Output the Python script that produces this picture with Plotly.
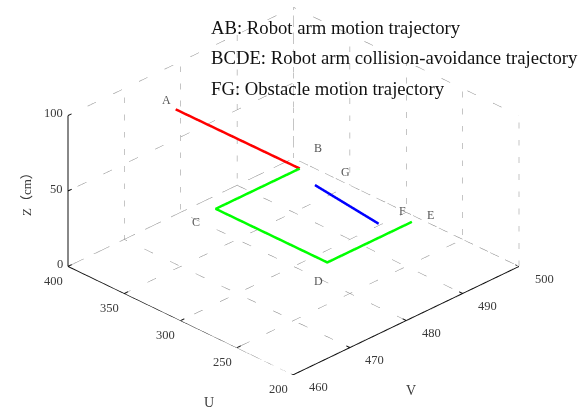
import plotly.graph_objects as go

# ---------------- data ----------------
U_RANGE = [200, 400]
V_RANGE = [460, 500]
Z_RANGE = [0, 100]
U_TICKS = [200, 250, 300, 350, 400]
V_TICKS = [460, 470, 480, 490, 500]
Z_TICKS = [0, 50, 100]

# trajectories: U, V, Z
AB_U = [358, 318]
AB_V = [470.7, 484.7]
AB_Z = [100, 50]

BCDE_U = [318, 318, 219, 219]
BCDE_V = [484.7, 469.8, 469.8, 484.8]
BCDE_Z = [50, 50, 50, 50]

FG_U = [232, 296]
FG_V = [481.5, 483]
FG_Z = [50, 50]

POINT_NAMES = ["A", "B", "C", "D", "E", "F", "G"]
POINT_U = [370.5, 328.6, 314.4, 205, 217.4, 233, 294.2]
POINT_V = [471.5, 490, 465.6, 465.5, 487.7, 486, 488.1]
POINT_Z = [100, 50, 50, 50, 50, 50, 50]

LEGEND_LINES = [
    "AB: Robot arm motion trajectory",
    "BCDE: Robot arm collision-avoidance trajectory",
    "FG: Obstacle motion trajectory",
]

SERIF = "Liberation Serif, Times New Roman, serif"

fig = go.Figure()

u0, u1 = U_RANGE
v0, v1 = V_RANGE
z0, z1 = Z_RANGE
TV = 0.65   # tick length expressed in V units
TU = 3.2    # tick length expressed in U units

# ---------------- grid (dotted, on the back planes) ----------------
gx, gy, gz = [], [], []
# floor
for u in U_TICKS:
    if u == u0:
        continue
    gx += [v0 + TV, v1, None]; gy += [u, u, None]; gz += [z0, z0, None]
for v in V_TICKS:
    if v == v0:
        continue
    gx += [v, v, None]; gy += [u0 + TU, u1, None]; gz += [z0, z0, None]
# back wall V = v1
for u in U_TICKS:
    gx += [v1, v1, None]; gy += [u, u, None]; gz += [z0, z1, None]
for z in Z_TICKS:
    gx += [v1, v1, None]; gy += [u0, u1, None]; gz += [z, z, None]
# back wall U = u1
for v in V_TICKS:
    if v == v0:
        continue
    gx += [v, v, None]; gy += [u1, u1, None]; gz += [z0, z1, None]
for z in Z_TICKS:
    gx += [v0 + TV, v1, None]; gy += [u1, u1, None]; gz += [z, z, None]

fig.add_trace(go.Scatter3d(x=gx, y=gy, z=gz, mode="lines",
                           line=dict(color="#8a8a8a", width=1, dash="dot"),
                           hoverinfo="skip", showlegend=False))

# ---------------- axis lines and ticks ----------------
ax_x = [v0, v0, None, v0, v1, None, v0, v0]
ax_y = [u1, u0, None, u0, u0, None, u1, u1]
ax_z = [z0, z0, None, z0, z0, None, z0, z1]
for u in U_TICKS:
    ax_x += [None, v0, v0 + TV]; ax_y += [None, u, u]; ax_z += [None, z0, z0]
for v in V_TICKS:
    ax_x += [None, v, v]; ax_y += [None, u0, u0 + TU]; ax_z += [None, z0, z0]
for z in Z_TICKS:
    ax_x += [None, v0, v0 + TV]; ax_y += [None, u1, u1]; ax_z += [None, z, z]
fig.add_trace(go.Scatter3d(x=ax_x, y=ax_y, z=ax_z, mode="lines",
                           line=dict(color="#111111", width=2),
                           hoverinfo="skip", showlegend=False))

# ---------------- trajectories ----------------
fig.add_trace(go.Scatter3d(x=AB_V, y=AB_U, z=AB_Z, mode="lines",
                           line=dict(color="#ff0000", width=5), showlegend=False))
fig.add_trace(go.Scatter3d(x=BCDE_V, y=BCDE_U, z=BCDE_Z, mode="lines",
                           line=dict(color="#00ff00", width=5), showlegend=False))
fig.add_trace(go.Scatter3d(x=FG_V, y=FG_U, z=FG_Z, mode="lines",
                           line=dict(color="#0000ff", width=5), showlegend=False))

# ---------------- annotations ----------------
ann = []
tick_font = dict(family=SERIF, size=12.5, color="#3a3a3a")
for u in U_TICKS:
    ann.append(dict(x=v0, y=u, z=z0, text=str(u), showarrow=False, font=tick_font,
                    xshift=-15, yshift=-15))
for v in V_TICKS:
    ann.append(dict(x=v, y=u0, z=z0, text=str(v), showarrow=False, font=tick_font,
                    xshift=25, yshift=-13))
for z in Z_TICKS:
    ann.append(dict(x=v0, y=u1, z=z, text=str(z), showarrow=False, font=tick_font,
                    xanchor="right", xshift=-3, yshift=2))
# axis titles
ann.append(dict(x=v0, y=300, z=z0, text="U", showarrow=False,
                font=dict(family=SERIF, size=14, color="#3a3a3a"), xshift=28, yshift=-82))
ann.append(dict(x=480, y=u0, z=z0, text="V", showarrow=False,
                font=dict(family=SERIF, size=14, color="#3a3a3a"), xshift=5, yshift=-70))
ann.append(dict(x=v0, y=u1, z=50, text="Z（cm）", showarrow=False, textangle=-90,
                font=dict(family="Liberation Serif, Noto Sans CJK SC", size=13, color="#3a3a3a"),
                xshift=-41, yshift=0))
# point labels
for name, pu, pv, pz in zip(POINT_NAMES, POINT_U, POINT_V, POINT_Z):
    ann.append(dict(x=pv, y=pu, z=pz, text=name, showarrow=False,
                    font=dict(family=SERIF, size=12, color="#555555")))

axis_common = dict(visible=False, autorange=False, showspikes=False)
R = 2.0
S = 1.67

fig.update_layout(
    width=579, height=409,
    margin=dict(l=0, r=0, t=0, b=0),
    paper_bgcolor="white",
    showlegend=False,
    scene=dict(
        domain=dict(x=[0.0142, 1.0], y=[0.067, 1.0]),
        xaxis=dict(range=V_RANGE, **axis_common),
        yaxis=dict(range=U_RANGE, **axis_common),
        zaxis=dict(range=Z_RANGE, **axis_common),
        aspectmode="manual",
        aspectratio=dict(x=S, y=S, z=0.539 * S),
        camera=dict(
            projection=dict(type="orthographic"),
            eye=dict(x=-0.6204 * R, y=-0.6204 * R, z=0.4798 * R),
            up=dict(x=0, y=0, z=1),
            center=dict(x=0, y=0, z=0),
        ),
        annotations=ann,
        bgcolor="white",
    ),
)

y_pos = [28, 58, 89]
for txt, yp in zip(LEGEND_LINES, y_pos):
    fig.add_annotation(xref="paper", yref="paper", x=209 / 579, y=1 - yp / 409,
                       xanchor="left", yanchor="middle", showarrow=False, text=txt,
                       font=dict(family=SERIF, size=18.7, color="#111111"))

fig.write_html("out.html")
